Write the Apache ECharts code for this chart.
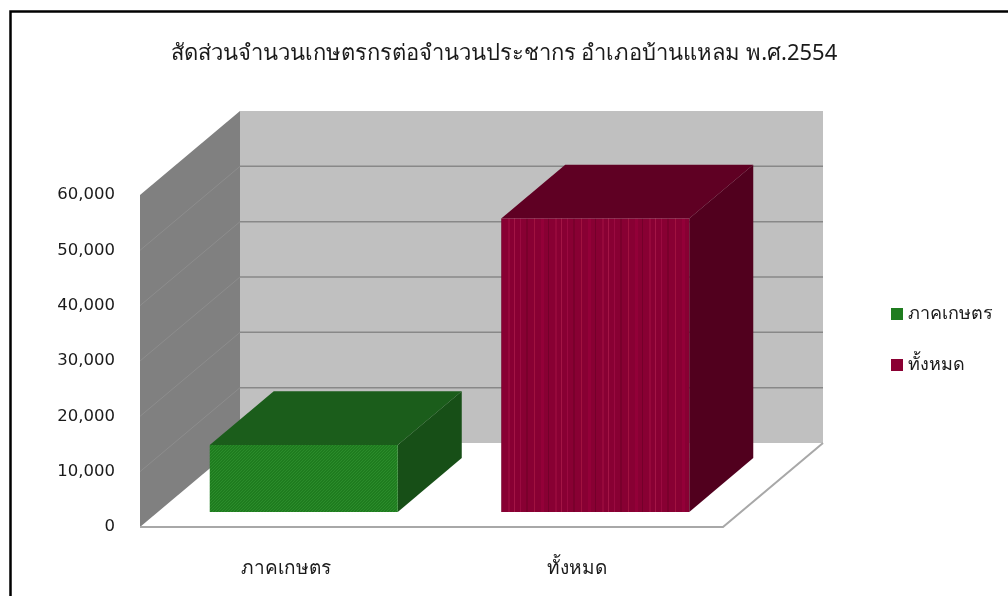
<!DOCTYPE html>
<html>
<head>
<meta charset="utf-8">
<script src="https://cdn.jsdelivr.net/npm/echarts@6/dist/echarts.min.js"></script>
<style>
  html, body { margin: 0; padding: 0; background: #ffffff; }
  #chart { width: 1008px; height: 596px; }
</style>
</head>
<body>
<div id="chart"></div>
<script>
// Farmers vs. total population, Ban Laem district, B.E. 2554
const categories = ['ภาคเกษตร', 'ทั้งหมด'];
const values = [12100, 53000];
const yTicks = [0, 10000, 20000, 30000, 40000, 50000, 60000];
const titleText = 'สัดส่วนจำนวนเกษตรกรต่อจำนวนประชากร อำเภอบ้านแหลม พ.ศ.2554';

// 3D look: depth vector of the floor, and where each box sits within that depth
const DEPTH = { dx: 100, dy: -84 };
const FRONT = 0.18, BACK = 0.82;
const BAR_WIDTH = 0.645;

// Small repeating textures for the front faces (dotted green, striped maroon)
function dotPattern(a, b) {
  const c = document.createElement('canvas');
  c.width = 3; c.height = 3;
  const g = c.getContext('2d');
  g.fillStyle = a; g.fillRect(0, 0, 3, 3);
  g.fillStyle = b; g.fillRect(0, 0, 1, 1); g.fillRect(2, 1, 1, 1); g.fillRect(1, 2, 1, 1);
  return { image: c, repeat: 'repeat' };
}
function stripePattern(base, shades) {
  const c = document.createElement('canvas');
  c.width = 47; c.height = 4;
  const g = c.getContext('2d');
  g.fillStyle = base; g.fillRect(0, 0, 47, 4);
  shades.forEach(function (s) { g.fillStyle = s[2]; g.fillRect(s[0], 0, s[1], 4); });
  return { image: c, repeat: 'repeat' };
}

const palettes = [
  { front: dotPattern('#1f7c1f', '#2b8c2b'), top: '#1b5d1b', side: '#174f17', legend: '#1f7c1f' },
  { front: stripePattern('#880033', [[3, 1, '#9a0a40'], [9, 2, '#7a002c'], [17, 1, '#a0123f'],
                                     [24, 3, '#930038'], [31, 1, '#74002a'], [38, 2, '#96083b'], [44, 1, '#a31545']]),
    top: '#5f0023', side: '#51001e', legend: '#8a0033' }
];

const THAI_FONT = '"Noto Sans", "DejaVu Sans", sans-serif';

function renderWalls(params, api) {
  const cs = params.coordSys;
  const L = cs.x, R = cs.x + cs.width, T = cs.y, B = cs.y + cs.height;
  const dx = DEPTH.dx, dy = DEPTH.dy;
  const children = [
    { type: 'polygon', shape: { points: [[L, B], [R, B], [R + dx, B + dy], [L + dx, B + dy]] },
      style: { fill: '#ffffff' } },
    { type: 'rect', shape: { x: L + dx, y: T + dy, width: R - L, height: B - T },
      style: { fill: '#c0c0c0' } },
    { type: 'polygon', shape: { points: [[L, B], [L, T], [L + dx, T + dy], [L + dx, B + dy]] },
      style: { fill: '#808080' } }
  ];
  yTicks.forEach(function (v) {
    if (v === yTicks[0] || v === yTicks[yTicks.length - 1]) return;
    const y = api.coord([0, v])[1];
    children.push({ type: 'line', shape: { x1: L + dx, y1: y + dy, x2: R + dx, y2: y + dy },
      style: { stroke: '#888888', lineWidth: 1.5 } });
    children.push({ type: 'line', shape: { x1: L, y1: y, x2: L + dx, y2: y + dy },
      style: { stroke: '#8d8d8d', lineWidth: 1 } });
  });
  children.push({ type: 'polyline', shape: { points: [[L, B], [R, B], [R + dx, B + dy]] },
    style: { stroke: '#a8a8a8', lineWidth: 2, fill: null } });
  return { type: 'group', children: children };
}

function renderBox(colors) {
  return function (params, api) {
    const cat = api.value(0), val = api.value(1);
    const base = api.coord([cat, 0]);
    const top = api.coord([cat, val]);
    const w = api.size([1, 0])[0] * BAR_WIDTH;
    const fx = DEPTH.dx * FRONT, fy = DEPTH.dy * FRONT;
    const ddx = DEPTH.dx * (BACK - FRONT), ddy = DEPTH.dy * (BACK - FRONT);
    const x0 = base[0] - w / 2 + fx, x1 = base[0] + w / 2 + fx;
    const yb = base[1] + fy, yt = top[1] + fy;
    return {
      type: 'group',
      children: [
        { type: 'polygon', shape: { points: [[x1, yt], [x1 + ddx, yt + ddy], [x1 + ddx, yb + ddy], [x1, yb]] },
          style: { fill: colors.side } },
        { type: 'polygon', shape: { points: [[x0, yt], [x1, yt], [x1 + ddx, yt + ddy], [x0 + ddx, yt + ddy]] },
          style: { fill: colors.top } },
        { type: 'rect', shape: { x: x0, y: yt, width: x1 - x0, height: yb - yt },
          style: { fill: colors.front } }
      ]
    };
  };
}

const chart = echarts.init(document.getElementById('chart'), null, { renderer: 'canvas' });

const series = [{
  type: 'custom',
  name: 'walls',
  silent: true,
  z: 1,
  renderItem: renderWalls,
  data: [[0, 0]]
}];
categories.forEach(function (name, i) {
  series.push({
    type: 'custom',
    name: name,
    z: 2,
    renderItem: renderBox(palettes[i]),
    itemStyle: { color: palettes[i].legend },
    encode: { x: 0, y: 1 },
    data: [[i, values[i]]]
  });
});

chart.setOption({
  animation: false,
  backgroundColor: '#ffffff',
  title: {
    text: titleText,
    left: 'center',
    top: 38,
    textStyle: { fontFamily: THAI_FONT, fontSize: 22, fontWeight: 'normal', color: '#1a1a1a' }
  },
  legend: {
    orient: 'vertical',
    left: 886,
    top: 300,
    itemWidth: 12,
    itemHeight: 12,
    itemGap: 33,
    icon: 'rect',
    data: categories,
    textStyle: { fontFamily: THAI_FONT, fontSize: 18, color: '#1a1a1a' }
  },
  grid: { left: 140, top: 195, width: 583, height: 332 },
  xAxis: {
    type: 'category',
    data: categories,
    axisLine: { show: false },
    axisTick: { show: false },
    splitLine: { show: false },
    axisLabel: { margin: 32, fontFamily: THAI_FONT, fontSize: 19, color: '#1a1a1a' }
  },
  yAxis: {
    type: 'value',
    min: yTicks[0],
    max: yTicks[yTicks.length - 1],
    interval: yTicks[1] - yTicks[0],
    axisLine: { show: false },
    axisTick: { show: false },
    splitLine: { show: false },
    axisLabel: {
      margin: 25,
      fontFamily: '"DejaVu Sans", sans-serif',
      fontSize: 16.5,
      color: '#1a1a1a',
      formatter: function (v) { return v.toLocaleString('en-US'); }
    }
  },
  graphic: [{
    type: 'rect',
    left: 8, top: 9,
    shape: { x: 0, y: 0, width: 1100, height: 700 },
    style: { fill: null, stroke: '#000000', lineWidth: 2.5 },
    silent: true
  }],
  series: series
});
</script>
</body>
</html>
